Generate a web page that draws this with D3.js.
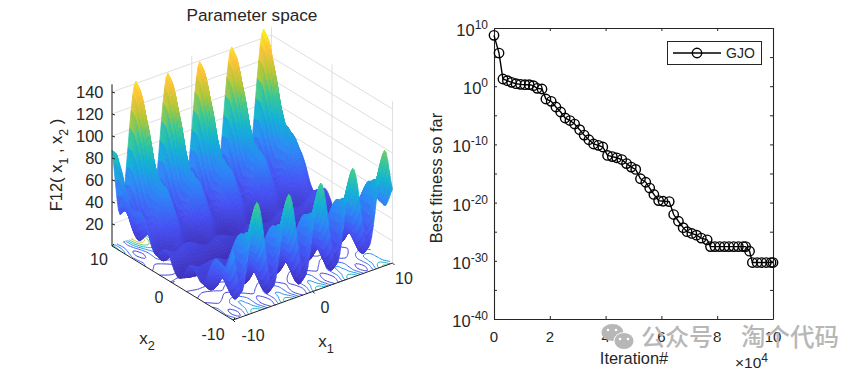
<!DOCTYPE html>
<html>
<head>
<meta charset="utf-8">
<script src="https://cdn.jsdelivr.net/npm/d3@7"></script>
<style>
  html, body { margin: 0; padding: 0; background: #fff; }
  svg { display: block; }
  text { font-family: "Liberation Sans", Arial, sans-serif; fill: #262626; }
</style>
</head>
<body>
<div id="chart"></div>
<script>
// left panel: heights estimated per unit step of x1, x2 (rows x2 -10..10, columns x1 -10..10),
// shape taken from the ridges and corner heights visible in the picture
var gridAxis = [-10,-9,-8,-7,-6,-5,-4,-3,-2,-1,0,1,2,3,4,5,6,7,8,9,10];
var surfaceZ = [
  [64,22,60,99,58,17,56,96,56,16,56,96,56,17,58,99,60,22,64,105,67],
  [46,13,43,73,40,8,39,70,38,6,38,70,39,8,40,73,43,13,46,79,50],
  [45,19,42,64,39,14,38,61,37,13,37,61,38,14,39,64,42,19,45,71,49],
  [45,25,42,58,39,21,38,55,37,19,37,55,38,21,39,58,42,25,45,64,49],
  [31,17,27,38,25,12,23,35,23,10,23,35,23,12,25,38,27,17,31,45,34],
  [17,8,14,21,12,3,10,18,10,2,10,18,10,3,12,21,14,8,17,27,21],
  [21,15,18,21,16,10,14,18,13,9,13,18,14,10,16,21,18,15,21,27,25],
  [26,22,23,24,21,18,19,20,18,16,18,20,19,18,21,24,23,22,26,30,30],
  [16,14,13,12,11,10,9,9,9,8,9,9,9,10,11,12,13,14,16,19,20],
  [8,6,5,4,2,2,1,0,0,0,0,0,1,2,2,4,5,6,8,10,12],
  [16,14,13,12,11,10,9,9,9,8,9,9,9,10,11,12,13,14,16,19,20],
  [26,22,23,24,21,18,19,20,18,16,18,20,19,18,21,24,23,22,26,30,30],
  [21,15,18,21,16,10,14,18,13,9,13,18,14,10,16,21,18,15,21,27,25],
  [17,8,14,21,12,3,10,18,10,2,10,18,10,3,12,21,14,8,17,27,21],
  [31,17,27,38,25,12,23,35,23,10,23,35,23,12,25,38,27,17,31,45,34],
  [45,25,42,58,39,21,38,55,37,19,37,55,38,21,39,58,42,25,45,64,49],
  [45,19,42,64,39,14,38,61,37,13,37,61,38,14,39,64,42,19,45,71,49],
  [46,13,43,73,40,8,39,70,38,6,38,70,39,8,40,73,43,13,46,79,50],
  [64,22,60,99,58,17,56,96,56,16,56,96,56,17,58,99,60,22,64,105,67],
  [83,32,79,127,77,27,75,124,75,26,75,124,75,27,77,127,79,32,83,134,86],
  [87,26,84,142,82,21,80,139,79,20,79,139,80,21,82,142,84,26,87,148,91]
];
var zTicks = [20,40,60,80,100,120,140];
var xyTicks = [-10,0,10];
var contourLevels = [20,40,60,80,100,120,140];
var parulaStops = ["#3e26a8","#4752f4","#2e87f7","#12b1d6","#37c897","#abc739","#fec338","#f9fb14"];
var parulaHeights = [0,30,55,75,93,110,130,150];

// right panel: best fitness curve, iteration and log10 of the value
var iterations = [0,1800,3200,4800,6300,7900,9500,11100,12600,14100,15500,17200,18600,20500,22200,23900,25500,27200,28900,30700,32300,34000,35700,37400,39000,40700,42400,44000,45800,47500,49200,50800,52500,54400,55800,57300,59000,60600,62800,64400,66100,67800,69200,70900,72600,74300,76400,77600,79200,80900,82600,84200,85900,87600,89300,90200,91600,92600,94300,95900,97600,99300,100000];
var fitnessExp = [8.74,5.7,1.24,0.95,0.66,0.43,0.32,0.26,0.26,0.09,-0.37,-0.48,-2.2,-2.6,-3.57,-4.43,-5.46,-5.9,-6.5,-7.47,-8.4,-9.2,-9.93,-10.16,-10.45,-11.9,-12.1,-12.3,-12.6,-13.3,-13.9,-14.3,-15.9,-16.5,-17.5,-18.6,-19.66,-19.77,-19.83,-22.05,-23.2,-24.3,-25,-25.3,-25.6,-26.1,-26.4,-27.56,-27.56,-27.56,-27.56,-27.56,-27.56,-27.56,-27.56,-27.56,-28.35,-30.3,-30.3,-30.3,-30.3,-30.3,-30.3];
var xTickValues = [0,20000,40000,60000,80000,100000];
var xTickLabels = ["0","2","4","6","8","10"];
var yTickExp = [10,0,-10,-20,-30,-40];
var yMinorExp = [5,-5,-15,-25,-35];

var svg = d3.select("#chart").append("svg").attr("width", 867).attr("height", 371);
svg.append("rect").attr("width", 867).attr("height", 371).attr("fill", "#fff");

var ink = "#262626";

// ---------- parameter space ----------
var x1ToPx = d3.scaleLinear().domain([-10,10]).range([0,159.5]);
var x1ToPy = d3.scaleLinear().domain([-10,10]).range([0,-57]);
var x2ToPx = d3.scaleLinear().domain([-10,10]).range([0,-121]);
var x2ToPy = d3.scaleLinear().domain([-10,10]).range([0,-74]);
var zToPy = d3.scaleLinear().domain([0,150]).range([0,-165]);
var color = d3.scaleLinear().domain(parulaHeights).range(parulaStops);

function project(x1, x2, z) {
    return [233 + x1ToPx(x1) + x2ToPx(x2), 320 + x1ToPy(x1) + x2ToPy(x2) + zToPy(z)];
}

function lineBetween(a, b, col, w) {
    svg.append("line").attr("x1", a[0]).attr("y1", a[1]).attr("x2", b[0]).attr("y2", b[1])
        .attr("stroke", col).attr("stroke-width", w);
}

// smooth the drawn mesh between the table rows (hermite, slopes a bit steeper than catmull-rom)
var steps = 5;
var slopeBoost = 1.5;
function hermite(a, i, t) {
    var p0 = a[Math.max(i - 1, 0)], p1 = a[i], p2 = a[Math.min(i + 1, a.length - 1)], p3 = a[Math.min(i + 2, a.length - 1)];
    var m1 = slopeBoost * (p2 - p0) / 2, m2 = slopeBoost * (p3 - p1) / 2;
    var t2 = t * t, t3 = t2 * t;
    return (2*t3 - 3*t2 + 1) * p1 + (t3 - 2*t2 + t) * m1 + (3*t2 - 2*t3) * p2 + (t3 - t2) * m2;
}
function refine(a) {
    var out = [];
    for (var i = 0; i < a.length - 1; i++) {
        for (var s = 0; s < steps; s++) out.push(hermite(a, i, s / steps));
    }
    out.push(a[a.length - 1]);
    return out;
}
var fineRows = surfaceZ.map(refine);
var n = fineRows[0].length;
var fineCols = d3.range(n).map(function(c) { return refine(fineRows.map(function(r) { return r[c] })) });
// fineCols[c][r] : c along x1, r along x2
function fineX(i) { return gridAxis[0] + i / steps; }

// walls
var zTop = 147;
zTicks.forEach(function(z) {
    lineBetween(project(-10,10,z), project(10,10,z), "#dfdfdf", 1);
    lineBetween(project(10,10,z), project(10,-10,z), "#dfdfdf", 1);
});
[[-10,10],[0,10],[10,10],[10,0],[10,-10]].forEach(function(c) {
    lineBetween(project(c[0],c[1],0), project(c[0],c[1],zTop), "#dfdfdf", 1);
});

// contours on the floor
var flat = [];
for (var r = 0; r < n; r++) { for (var c = 0; c < n; c++) { flat.push(fineCols[c][r]); } }
var contourSets = d3.contours().size([n, n]).thresholds(contourLevels)(flat);
function floorPoint(p) {
    var cx = Math.min(Math.max(p[0], 0.5), n - 0.5) - 0.5;
    var cy = Math.min(Math.max(p[1], 0.5), n - 0.5) - 0.5;
    return project(fineX(cx), fineX(cy), 0);
}
function onEdge(a, b) {
    return (a[0] === b[0] && (a[0] <= 0 || a[0] >= n)) || (a[1] === b[1] && (a[1] <= 0 || a[1] >= n));
}
contourSets.forEach(function(set) {
    var p = d3.path();
    set.coordinates.forEach(function(poly) {
        poly.forEach(function(ring) {
            var pen = false;
            for (var i = 1; i < ring.length; i++) {
                if (onEdge(ring[i-1], ring[i])) { pen = false; continue; }
                var a = floorPoint(ring[i-1]), b = floorPoint(ring[i]);
                if (!pen) p.moveTo(a[0], a[1]);
                p.lineTo(b[0], b[1]);
                pen = true;
            }
        });
    });
    svg.append("path").attr("d", p.toString()).attr("fill", "none")
        .attr("stroke", color(set.value)).attr("stroke-width", 1);
});

// surface, back corner first
var quads = [];
for (var i = n - 2; i >= 0; i--) {
    for (var j = n - 2; j >= 0; j--) {
        quads.push([i, j]);
    }
}
svg.append("g").selectAll("path").data(quads).join("path")
    .each(function(d) {
        var i = d[0], j = d[1];
        var zs = [fineCols[i][j], fineCols[i+1][j], fineCols[i+1][j+1], fineCols[i][j+1]];
        var pts = [project(fineX(i), fineX(j), zs[0]), project(fineX(i+1), fineX(j), zs[1]),
                   project(fineX(i+1), fineX(j+1), zs[2]), project(fineX(i), fineX(j+1), zs[3])];
        var col = color(d3.mean(zs));
        d3.select(this).attr("d", "M" + pts.join("L") + "Z").attr("fill", col).attr("stroke", col).attr("stroke-width", 0.8);
    });

// axis lines
lineBetween(project(-10,10,0), project(-10,10,zTop), ink, 1);
lineBetween(project(-10,10,0), project(-10,-10,0), ink, 1);
lineBetween(project(-10,-10,0), project(10,-10,0), ink, 1);

zTicks.forEach(function(z) {
    var p = project(-10,10,z);
    lineBetween(p, [p[0] + 3, p[1] + 1], ink, 1);
    svg.append("text").attr("x", p[0] - 8.5).attr("y", p[1] + 5.5).attr("text-anchor", "end").attr("font-size", 16.5).text(z);
});
xyTicks.forEach(function(v) {
    var a = project(v,-10,0);
    lineBetween(a, [a[0] + 2, a[1] + 2], ink, 1);
    var b = project(-10,v,0);
    lineBetween(b, [b[0] + 2, b[1] - 2], ink, 1);
});
var x1Labels = [[253,341,"-10"],[325,313,"0"],[404,284,"10"]];
var x2Labels = [[99,265,"10"],[159,303,"0"],[213,340,"-10"]];
x1Labels.concat(x2Labels).forEach(function(d) {
    svg.append("text").attr("x", d[0]).attr("y", d[1]).attr("text-anchor", "middle").attr("font-size", 16).text(d[2]);
});

function subLabel(x, y, parts, size, rotate) {
    var t = svg.append("text").attr("font-size", size).attr("text-anchor", "middle");
    if (rotate) { t.attr("transform", "translate(" + x + "," + y + ") rotate(-90)"); } else { t.attr("x", x).attr("y", y); }
    parts.forEach(function(part) {
        t.append("tspan").text(part[0]).attr("font-size", part[1] ? size * 0.75 : size).attr("dy", part[1] ? size * 0.38 : (part[2] ? -size * 0.38 : 0));
    });
    return t;
}
subLabel(147, 344, [["x"],["2",1]], 17);
subLabel(326, 347, [["x"],["1",1]], 17);
subLabel(62, 165, [["F12( x"],["1",1],["\u00a0, x",0,1],["2",1],["\u00a0)",0,1]], 16.5, true);
svg.append("text").attr("x", 252).attr("y", 21).attr("text-anchor", "middle").attr("font-size", 17.2).attr("fill", "#111").text("Parameter space");

// ---------- convergence curve ----------
var plotLeft = 494, plotRight = 773, plotTop = 28, plotBottom = 319;
var xScale = d3.scaleLinear().domain([0,100000]).range([plotLeft, plotRight]);
var yScale = d3.scaleLinear().domain([-40,10]).range([plotBottom, plotTop]);
var yMajorMinor = yTickExp.concat(yMinorExp);

function styleAxis(g) {
    g.selectAll("path").attr("stroke", ink).attr("stroke-width", 1.1);
    g.selectAll("line").attr("stroke", ink);
    g.selectAll("text").remove();
}
svg.append("g").attr("transform", "translate(0," + plotBottom + ")")
    .call(d3.axisBottom(xScale).tickValues(xTickValues).tickSizeInner(-3).tickSizeOuter(0)).call(styleAxis);
svg.append("g").attr("transform", "translate(0," + plotTop + ")")
    .call(d3.axisTop(xScale).tickValues(xTickValues).tickSizeInner(-3).tickSizeOuter(0)).call(styleAxis);
svg.append("g").attr("transform", "translate(" + plotLeft + ",0)")
    .call(d3.axisLeft(yScale).tickValues(yMajorMinor).tickSizeInner(-3).tickSizeOuter(0)).call(styleAxis);
svg.append("g").attr("transform", "translate(" + plotRight + ",0)")
    .call(d3.axisRight(yScale).tickValues(yMajorMinor).tickSizeInner(-3).tickSizeOuter(0)).call(styleAxis);

xTickValues.forEach(function(v, i) {
    svg.append("text").attr("x", xScale(v)).attr("y", plotBottom + 23).attr("text-anchor", "middle").attr("font-size", 15).text(xTickLabels[i]);
});
yTickExp.forEach(function(e) {
    var t = svg.append("text").attr("x", plotLeft - 6).attr("y", yScale(e) + 8).attr("text-anchor", "end").attr("font-size", 16.5);
    t.append("tspan").text("10");
    t.append("tspan").text(e).attr("font-size", 12).attr("dy", -7);
});

var points = iterations.map(function(d, i) { return [d, fitnessExp[i]] });
var line = d3.line().x(function(d) { return xScale(d[0]) }).y(function(d) { return yScale(d[1]) });
svg.append("path").attr("d", line(points)).attr("fill", "none").attr("stroke", "#000").attr("stroke-width", 1.4);
svg.append("g").selectAll("circle").data(points).join("circle")
    .attr("cx", function(d) { return xScale(d[0]) })
    .attr("cy", function(d) { return yScale(d[1]) })
    .attr("r", 4.7).attr("fill", "none").attr("stroke", "#000").attr("stroke-width", 1.4);

// legend
svg.append("rect").attr("x", 667.5).attr("y", 41.5).attr("width", 94).attr("height", 23).attr("fill", "#fff").attr("stroke", ink).attr("stroke-width", 1);
svg.append("line").attr("x1", 673).attr("x2", 721).attr("y1", 53).attr("y2", 53).attr("stroke", "#000").attr("stroke-width", 1.4);
svg.append("circle").attr("cx", 697).attr("cy", 53).attr("r", 4.7).attr("fill", "none").attr("stroke", "#000").attr("stroke-width", 1.4);
svg.append("text").attr("x", 726).attr("y", 58).attr("font-size", 14).text("GJO");

svg.append("text").attr("x", 634).attr("y", 364).attr("text-anchor", "middle").attr("font-size", 16.4).text("Iteration#");
svg.append("text").attr("transform", "translate(442,178) rotate(-90)").attr("text-anchor", "middle").attr("font-size", 16.4).text("Best fitness so far");
var mult = svg.append("text").attr("x", 735).attr("y", 368).attr("font-size", 15.5);
mult.append("tspan").text("\u00d710");
mult.append("tspan").text("4").attr("font-size", 12).attr("dy", -6);

// watermark
var wm = "#b7b7b7";
svg.append("ellipse").attr("cx", 612.5).attr("cy", 332.5).attr("rx", 11).attr("ry", 8.5).attr("fill", wm);
svg.append("ellipse").attr("cx", 624).attr("cy", 341).attr("rx", 10.5).attr("ry", 9).attr("fill", "#fff");
svg.append("ellipse").attr("cx", 624).attr("cy", 341).attr("rx", 9.5).attr("ry", 8).attr("fill", wm);
svg.selectAll(".eye").data([[608,330],[616,330],[620,339],[628,339]]).join("circle").attr("class", "eye")
    .attr("cx", function(d) { return d[0] }).attr("cy", function(d) { return d[1] }).attr("r", 1.3).attr("fill", "#fff");
svg.append("text").attr("x", 641).attr("y", 346).attr("font-size", 24).attr("style", "font-family:'Noto Sans CJK SC';font-weight:500;fill:#b7b7b7").text("\u516c\u4f17\u53f7");
svg.append("text").attr("x", 741).attr("y", 346).attr("font-size", 24.5).attr("style", "font-family:'Noto Sans CJK SC';font-weight:500;fill:#b7b7b7").text("\u6dd8\u4e2a\u4ee3\u7801");
svg.append("circle").attr("cx", 719).attr("cy", 337).attr("r", 1.2).attr("fill", wm);
</script>
</body>
</html>
